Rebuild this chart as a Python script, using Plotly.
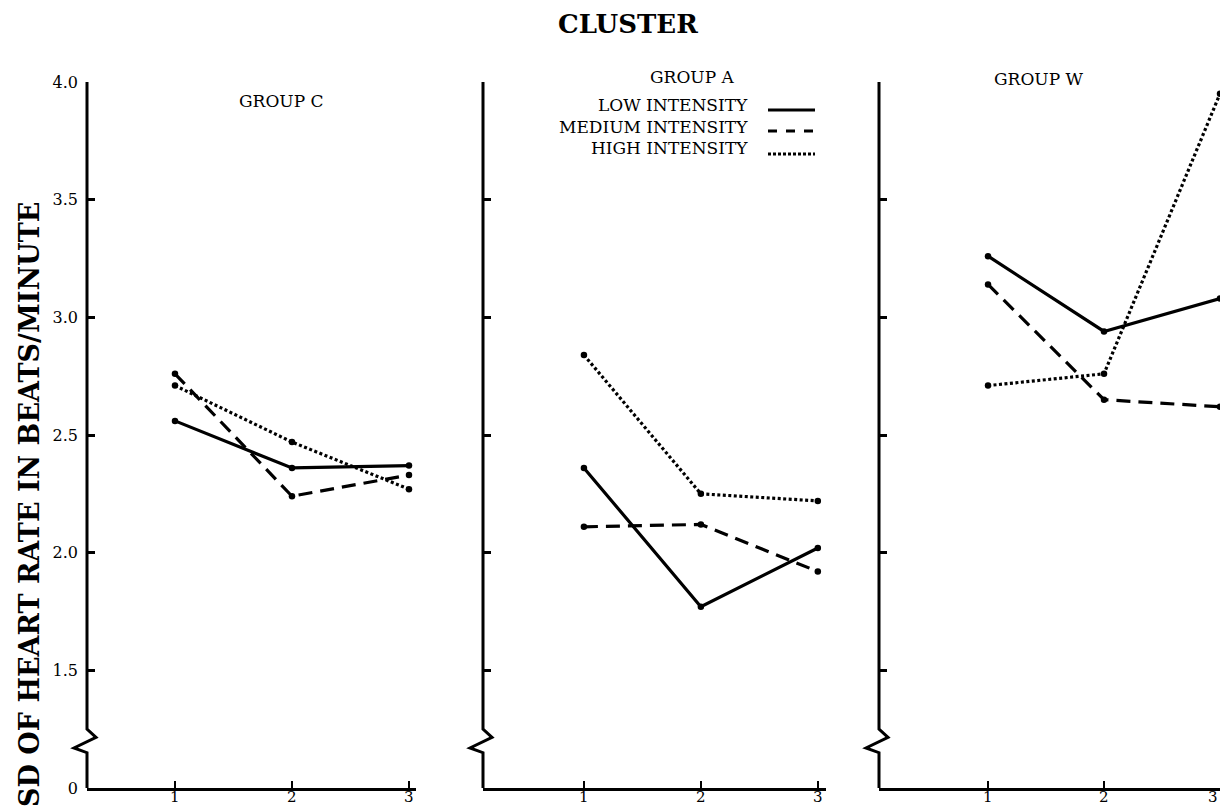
import plotly.graph_objects as go

W, H = 1220, 808

# ---- data -------------------------------------------------------------
sessions = [1, 2, 3]
session_labels = ["1", "2", "3"]
group_names = ["GROUP C", "GROUP A", "GROUP W"]
intensity_names = ["LOW INTENSITY", "MEDIUM INTENSITY", "HIGH INTENSITY"]

low_c = [2.56, 2.36, 2.37]
medium_c = [2.76, 2.24, 2.33]
high_c = [2.71, 2.47, 2.27]

low_a = [2.36, 1.77, 2.02]
medium_a = [2.11, 2.12, 1.92]
high_a = [2.84, 2.25, 2.22]

low_w = [3.26, 2.94, 3.08]
medium_w = [3.14, 2.65, 2.62]
high_w = [2.71, 2.76, 3.95]

ytick_vals = [1.0, 1.5, 2.0, 2.5, 3.0, 3.5, 4.0]
ytick_text = ["0", "1.5", "2.0", "2.5", "3.0", "3.5", "4.0"]
Y_MIN, Y_MAX = 1.0, 4.0

# ---- layout geometry --------------------------------------------------
M_T, M_B = 82, 20
plot_h = H - M_T - M_B


def px_x(px):
    return px / W


def px_y(py):
    return (H - M_B - py) / plot_h


def dom_y(v):
    return (v - Y_MIN) / (Y_MAX - Y_MIN)


domains = [(87, 416), (483, 826), (879, 1220)]
xranges = [(0.248, 3.06), (0.137, 3.07), (0.06, 3.0)]
label_pos = [(281, 101), (692, 77), (1038, 79)]

series = [
    (low_c, medium_c, high_c),
    (low_a, medium_a, high_a),
    (low_w, medium_w, high_w),
]
dashes = ["solid", "14px,8px", "3px,2.5px"]

SERIF = "DejaVu Serif"
fig = go.Figure()

# axis-break zigzag (pixel offsets from the axis, heights in axis values)
brk = [(0, Y_MIN), (0, 1.15), (-13, 1.17), (9, 1.215), (0, 1.25), (0, Y_MAX)]
brk_path = "M " + " L ".join(f"{dx},{dom_y(v):.4f}" for dx, v in brk)

for i, (vals, dom, xr) in enumerate(zip(series, domains, xranges), start=1):
    xa = "x" if i == 1 else f"x{i}"
    ya = "y" if i == 1 else f"y{i}"
    for name, v, d in zip(intensity_names, vals, dashes):
        fig.add_trace(go.Scatter(
            x=sessions, y=v, mode="lines+markers", name=name,
            xaxis=xa, yaxis=ya, showlegend=False,
            line=dict(color="black", width=3.2, dash=d),
            marker=dict(color="black", size=6.5),
        ))
    fig.update_layout({
        f"xaxis{'' if i == 1 else i}": dict(
            domain=[px_x(dom[0]), px_x(dom[1])], range=list(xr),
            anchor=ya, showline=True, linecolor="black", linewidth=3,
            ticks="inside", ticklen=7, tickwidth=2, tickcolor="black",
            tickvals=sessions, showticklabels=False,
            showgrid=False, zeroline=False, automargin=False,
        ),
        f"yaxis{'' if i == 1 else i}": dict(
            domain=[0, 1], range=[Y_MIN, Y_MAX], anchor=xa,
            showline=False, ticks="inside", ticklen=8, tickwidth=2.5,
            tickcolor="black", tickvals=ytick_vals, ticktext=ytick_text,
            showticklabels=(i == 1), ticklabelstandoff=8,
            tickfont=dict(family=SERIF, size=16, color="black"),
            showgrid=False, zeroline=False, automargin=False,
        ),
    })
    # y axis line with a break near the bottom
    fig.add_shape(
        type="path", xref=f"{xa} domain", yref=f"{ya} domain",
        xsizemode="pixel", xanchor=0, path=brk_path,
        line=dict(color="black", width=3),
    )
    # session tick labels
    for s, lab in zip(sessions, session_labels):
        at_edge = (s == xr[1])
        fig.add_annotation(
            text=lab, xref=xa, yref="paper", x=s, y=px_y(797),
            showarrow=False, xanchor="right" if at_edge else "center",
            yanchor="middle",
            font=dict(family=SERIF, size=15, color="black"),
        )
    fig.add_annotation(
        text=group_names[i - 1], xref="paper", yref="paper",
        x=px_x(label_pos[i - 1][0]), y=px_y(label_pos[i - 1][1]),
        showarrow=False, xanchor="center", yanchor="middle",
        font=dict(family=SERIF, size=17, color="black"),
    )

# legend drawn inside the middle panel
legend_rows = [105, 127, 148]
legend_lines = [110, 131, 154]
legend_dash = ["solid", "dash", "3px,2px"]
for name, ty, ly, d in zip(intensity_names, legend_rows, legend_lines, legend_dash):
    fig.add_annotation(
        text=name, xref="paper", yref="paper", x=px_x(750), y=px_y(ty),
        showarrow=False, xanchor="right", yanchor="middle",
        font=dict(family=SERIF, size=17, color="black"),
    )
    fig.add_shape(
        type="line", xref="paper", yref="paper",
        x0=px_x(768), x1=px_x(815), y0=px_y(ly), y1=px_y(ly),
        line=dict(color="black", width=3, dash=d),
    )

fig.add_annotation(
    text="CLUSTER", xref="paper", yref="paper", x=px_x(628), y=px_y(24),
    showarrow=False, xanchor="center", yanchor="middle",
    font=dict(family=SERIF, size=26, color="black", weight="bold"),
)
fig.add_annotation(
    text="SD OF HEART RATE IN BEATS/MINUTE", textangle=-90,
    xref="paper", yref="paper", x=px_x(29), y=px_y(505),
    showarrow=False, xanchor="center", yanchor="middle",
    font=dict(family=SERIF, size=27, color="black", weight="bold"),
)

fig.update_layout(
    width=W, height=H, margin=dict(l=0, r=0, t=M_T, b=M_B),
    paper_bgcolor="white", plot_bgcolor="white", showlegend=False,
)

fig.write_html("out.html")
